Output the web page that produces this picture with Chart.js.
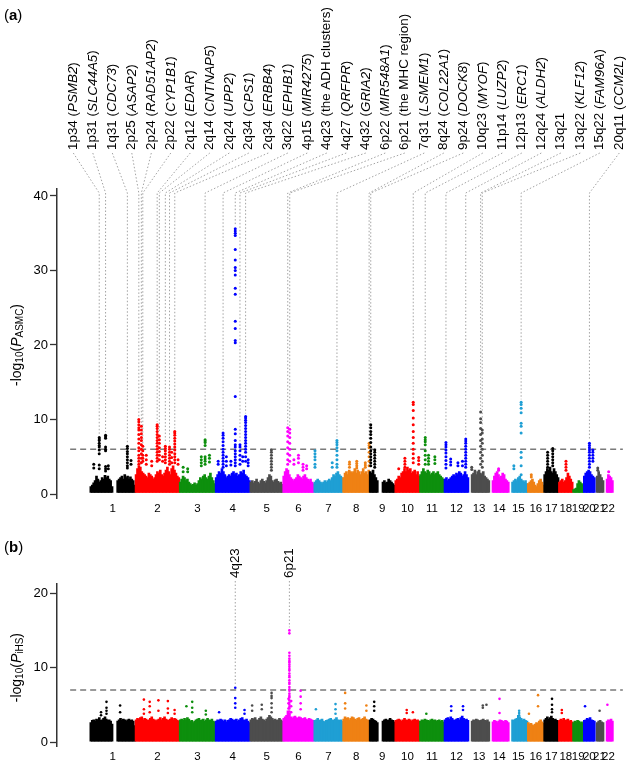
<!DOCTYPE html>
<html lang="en">
<head>
<meta charset="UTF-8">
<title>ASMC / iHS Manhattan plots</title>
<script src="https://cdn.jsdelivr.net/npm/chart.js"></script>
<style>
  body { margin: 0; background: #fff; }
  #wrap { position: relative; width: 640px; height: 761px; }
  canvas { position: absolute; left: 0; }
</style>
</head>
<body>
<div id="wrap">
  <canvas id="chartA" width="640" height="525" style="top:0"></canvas>
  <canvas id="chartB" width="640" height="236" style="top:525px"></canvas>
</div>

<script>
// ---- data ----
const chromosomes = ['1','2','3','4','5','6','7','8','9','10','11','12','13','14','15','16','17','18','19','20','21','22'];
const chromLengthMb = [249,243,198,191,181,171,159,146,141,136,135,134,115,107,103,90,81,78,59,63,48,51];

const asmcTicks = [0, 10, 20, 30, 40];
const ihsTicks = [0, 10, 20];
const asmcThreshold = 6;
const ihsThreshold = 7;

// top of the dense SNP mass, evenly spaced bins along each chromosome (null = no SNPs)
const asmcBaseTop = [
  [1.0,1.2,1.5,1.8,2.4,2.0,1.6,1.8,2.2,2.0,2.5,2.2,2.4,2.0,1.8,1.0,null,null,null,1.8,2.0,2.2,2.4,2.0,2.6,2.2,2.4,2.0,2.3,2.0,1.8,1.2],
  [2.6,3.4,3.8,3.6,3.0,2.8,2.6,2.4,2.2,2.8,2.6,2.4,2.0,2.2,2.6,3.0,2.8,3.2,2.6,2.4,2.8,3.2,3.6,3.0,2.6,3.4,3.8,3.2,2.8,2.4,2.2],
  [1.6,2.0,2.4,2.2,1.8,2.0,1.6,1.4,1.2,1.3,1.5,1.2,1.4,1.8,2.2,2.0,2.4,2.6,2.2,2.0,2.4,2.8,2.2,1.8,1.4],
  [2.2,2.6,3.0,2.8,3.4,3.0,2.6,2.2,2.4,2.6,2.4,2.8,3.0,2.6,2.8,2.4,2.6,3.0,2.8,3.2,2.6,2.4,2.2,1.8],
  [1.6,1.8,1.5,1.7,2.0,1.6,1.4,1.8,2.0,1.7,1.5,1.8,2.2,2.6,2.4,1.8,1.6,1.9,2.0,1.7,1.5,1.6,1.3],
  [2.4,3.0,3.4,3.2,2.6,2.2,2.0,1.8,2.0,2.2,2.6,2.4,2.2,2.0,2.4,2.6,2.2,2.0,1.8,2.0,1.6,1.4],
  [1.6,1.8,2.0,1.8,1.6,1.4,1.6,1.8,1.6,1.8,2.0,1.8,2.2,2.6,2.4,2.8,3.0,2.6,2.4,2.2],
  [2.2,2.8,3.0,2.6,3.2,3.0,2.8,3.0,3.4,2.8,3.2,3.0,2.6,3.0,3.4,2.8,3.0,2.6,3.2],
  [3.0,2.8,3.2,2.6,2.2,1.8,null,null,null,1.6,1.8,1.5,1.6,2.0,1.8,1.6,1.4,1.2],
  [1.8,2.0,2.4,2.2,2.8,3.0,3.4,3.0,3.6,3.2,3.4,2.8,3.0,3.2,2.6,3.0,2.4],
  [2.6,3.0,3.4,3.0,2.8,3.2,3.0,2.6,2.8,3.0,2.6,2.8,3.0,2.6,2.4,2.2,2.0],
  [2.0,2.2,1.8,2.0,2.2,2.4,2.6,2.4,2.8,2.6,3.0,2.8,2.4,2.6,3.0,2.6,2.2],
  [null,null,2.6,2.8,3.2,2.6,3.0,3.2,2.8,2.6,3.0,2.4,2.2,2.0,1.8],
  [null,null,1.8,2.4,2.8,3.0,2.6,2.2,2.4,2.8,2.6,2.0,1.8,1.6],
  [null,null,1.6,1.8,2.0,1.8,2.2,2.4,2.0,1.8,1.6,1.8,1.4],
  [1.4,1.6,1.8,2.0,1.6,1.2,1.0,1.4,1.8,2.0,1.6,1.2],
  [2.6,3.0,3.4,3.2,3.6,3.0,2.8,3.4,3.0,2.6,2.2],
  [1.6,1.8,2.0,1.6,1.8,2.2,2.8,2.4,2.0,1.6],
  [0.6,0.7,0.8,1.4,1.8,1.6,1.4,1.2],
  [2.4,2.8,3.0,3.2,3.0,2.6,2.4,2.2],
  [null,2.4,3.0,2.6,2.2,1.8],
  [null,null,2.0,2.6,2.4,2.2,1.8]
];

// labelled loci in panel (a)
const asmcLocusBand = ['1p34','1p31','1q31','2p25','2p24','2p22','2q12','2q14','2q24','2q34','2q34','3q22','4p15','4q23','4q27','4q32','6p22','6p21','7q31','8q24','9p24','10q23','11p14','12p13','12q24','13q21','13q22','15q22','20q11'];
const asmcLocusGene = ['PSMB2','SLC44A5','CDC73','ASAP2','RAD51AP2','CYP1B1','EDAR','CNTNAP5','UPP2','CPS1','ERBB4','EPHB1','MIR4275','the ADH clusters','QRFPR','GRIA2','MIR548A1','the MHC region','LSMEM1','COL22A1','DOCK8','MYOF','LUZP2','ERC1','ALDH2','','KLF12','FAM96A','CCM2L'];
const asmcLocusChrom = [1,1,1,2,2,2,2,2,2,2,2,3,4,4,4,4,6,6,7,8,9,10,11,12,12,13,13,15,20];
const asmcLocusMb = [50,85,205,19,33,41,120,132,165,188,217,141,42,109,135,166,26,37,126,144,7,100,30,9,118,66,75,67,32];
const asmcLocusValues = [
  [7.6,7.4,7.2,6.8,6.5,6.3,5.9,5.4,3.9,3.4],
  [7.9,7.7,7.5,6.3,6.0,5.8,3.7,3.4,3.1],
  [6.4,6.1,5.7,5.4,5.0,4.6,4.2,3.8,3.5],
  [10.0,9.7,9.3,8.9,8.6,8.0,7.4,6.8,6.2,5.8,5.2,4.8,4.4,4.0],
  [9.1,8.6,8.1,7.6,7.2,6.6,6.0,5.4,4.8,4.2],
  [6.4,5.8,5.2,4.8,4.4],
  [9.3,9.1,8.8,8.4,8.0,7.6,7.2,6.8,6.4,6.0,5.6,5.2,4.8,4.4],
  [7.8,7.3,6.8,6.2,5.7,5.2,4.6],
  [6.4,6.1,5.8,5.4,5.0,4.6,4.2],
  [6.3,6.0,5.6,5.2,4.8,4.4,4.0],
  [8.4,8.2,7.9,7.5,7.1,6.7,6.3,5.9,5.4,5.0,4.6,4.2],
  [7.3,7.1,6.9,6.5,5.0,4.7,4.4,4.0],
  [8.2,7.9,7.5,7.0,6.5,6.0,5.6,5.2,4.8,4.4,4.0,3.6],
  [35.6,35.3,35.0,34.7,32.8,31.4,30.4,30.0,29.4,27.6,26.8,23.2,22.2,20.6,20.3,13.1,8.7,8.1,7.2,6.6,6.3,5.8,5.4,5.0,4.6,4.2,3.8],
  [6.6,6.3,5.8,5.2,4.6,4.0],
  [10.4,10.2,9.9,9.6,9.2,8.8,8.4,8.0,7.6,7.2,6.8,6.4,6.0,5.6,5.0,4.4],
  [8.9,8.4,7.8,7.0,6.2,5.4,4.6,4.0],
  [8.7,8.2,7.6,6.8,6.0,5.2,4.4],
  [7.2,6.9,6.6,6.2,5.8,5.2,4.6,4.0,3.6],
  [6.8,6.5,6.2,5.6,5.0,4.4,3.8],
  [9.3,8.9,8.4,8.0,7.5,6.9,6.3,5.8,5.4,5.0,4.6,4.2,3.8],
  [12.3,12.0,11.2,10.2,9.3,8.4,7.6,6.8,6.0,5.4,4.8,4.2],
  [7.6,7.3,7.0,6.6,5.8,5.2,4.6,4.0],
  [6.9,6.6,6.3,5.9,5.5,5.0,4.5,4.0,3.5],
  [7.4,7.1,6.8,6.4,6.0,5.6,5.2,4.8,4.4,4.0,3.6],
  [11.0,10.1,9.6,8.8,8.0,7.2,6.4,5.6,4.8,4.0],
  [8.6,8.2,7.4,6.8,6.0,5.2,4.4,3.6],
  [12.3,12.0,11.5,10.9,9.5,9.1,8.2,5.6,4.9,3.8,2.6],
  [6.8,6.5,6.2,5.9,5.6,5.2,4.8,4.4,4.0,3.6]
];

// other SNP stacks above the mass in panel (a): [chromosome, Mb, values]
const asmcOtherStacks = [
  [1,20,[4.0,3.5]], [1,100,[3.8,3.4]], [1,225,[4.5,4.0]],
  [2,60,[5.2,4.6,4.0]], [2,90,[4.4,3.8]], [2,150,[5.0,4.4]], [2,200,[5.6,4.9,4.2]], [2,235,[4.6,4.0]],
  [3,20,[3.6,3.0]], [3,45,[3.4,3.0]], [3,120,[5.0,4.6,4.2,3.8]], [3,165,[5.2,4.8,4.3]],
  [4,15,[4.4,4.0]], [4,60,[5.0,4.4,3.8]], [4,85,[4.4,3.9]], [4,150,[5.0,4.4]], [4,180,[4.6,4.2,3.8]],
  [5,117,[5.9,5.6,5.2,4.8,4.4,4.0,3.6,3.2]],
  [6,60,[4.6,4.0]], [6,85,[5.2,4.8,4.2]], [6,110,[4.0,3.6,3.2]], [6,130,[3.8,3.4]],
  [7,5,[5.8,5.4,5.0,4.6,4.0,3.6]], [7,100,[4.2,3.6]],
  [8,36,[4.3,4.0,3.6]], [8,76,[4.4,4.1,3.8,3.5]], [8,123,[4.2,3.9,3.6]],
  [9,29,[5.9,5.6,5.2,4.8,4.4,4.0,3.6]],
  [10,20,[3.4]], [10,54,[4.8,4.4,4.0,3.6]], [10,130,[4.9,4.5,4.0]],
  [11,48,[5.2,4.8,4.4,4.0]], [11,83,[5.0,4.6,4.1]],
  [12,35,[4.7,4.3,3.9]], [12,75,[4.2,3.8]], [12,100,[4.4,3.8]],
  [13,17,[3.6,3.3]], [14,50,[3.4,3.2]], [15,27,[3.8,3.4]], [16,20,[2.6,2.3]],
  [17,20,[5.6,5.2,4.8,4.4,4.0,3.6]], [17,48,[6.1,5.8,5.4,5.0,4.6,4.2,3.8]],
  [18,40,[4.4,4.0,3.6,3.2]], [20,51,[5.9,5.6,5.2,4.8,4.4]], [21,15,[3.5,3.2]], [22,27,[3.0]]
];

const ihsBaseTop = [
  [2.6,2.9,3.0,2.8,3.1,3.0,3.3,2.9,3.0,3.2,3.4,3.1,2.9,3.0,2.8,2.4,null,null,null,2.8,3.0,3.2,2.9,3.1,3.0,2.8,3.0,3.1,2.9,3.0,2.8,2.2],
  [3.0,3.2,3.1,3.3,3.4,3.0,3.2,3.1,2.9,3.0,3.2,3.4,3.1,3.0,2.8,3.0,3.1,3.3,3.0,3.2,3.4,3.1,3.0,2.9,3.1,3.3,3.0,3.2,3.1,2.9,2.8],
  [3.0,3.1,2.9,3.2,3.0,3.3,3.1,2.8,2.9,2.6,2.8,3.0,3.1,3.2,2.9,3.0,3.1,2.8,3.0,3.2,3.0,2.9,3.1,2.8,2.7],
  [2.8,3.0,2.9,3.1,3.0,2.8,3.0,2.7,2.9,3.0,3.2,3.1,2.9,3.0,3.1,2.8,3.0,3.2,3.3,3.0,2.9,3.1,2.8,2.6],
  [3.0,3.2,3.1,3.3,3.0,2.9,3.2,3.4,3.1,3.0,2.8,3.1,3.3,3.6,3.4,3.2,3.0,3.1,2.9,3.0,3.2,3.0,2.8],
  [3.2,3.4,3.6,4.2,3.8,3.4,3.2,3.4,3.5,3.3,3.2,3.4,3.3,3.1,3.2,3.3,3.1,3.0,3.2,3.1,3.0,2.9],
  [2.9,3.0,3.2,2.9,3.0,3.1,2.8,2.7,2.9,3.0,3.1,3.2,3.0,2.9,3.1,3.3,3.0,2.9,3.0,2.8],
  [3.1,3.4,3.2,3.3,3.0,3.2,3.4,3.3,3.1,3.0,3.2,3.3,3.0,3.1,3.2,3.4,3.1,3.0,2.9],
  [3.0,3.2,3.1,2.9,2.8,2.6,null,null,null,2.8,3.0,3.1,2.9,3.0,3.2,3.0,2.9,2.7],
  [2.9,3.0,3.1,3.0,2.8,3.0,3.2,3.0,2.9,3.1,3.0,2.8,3.0,3.1,2.9,3.0,2.8],
  [2.8,3.0,2.9,3.1,3.0,2.9,2.8,3.0,3.1,2.9,3.0,2.8,2.9,3.0,2.8,2.9,2.7],
  [3.0,3.2,3.3,3.1,3.4,3.2,3.0,2.9,3.1,3.2,3.0,3.3,3.5,3.2,3.0,3.1,2.9],
  [null,null,2.8,3.0,2.9,3.1,3.0,2.8,2.9,3.0,3.1,2.9,2.8,3.0,2.7],
  [null,null,2.7,2.9,2.8,2.6,2.8,3.0,2.9,2.8,2.7,2.9,2.8,2.6],
  [null,null,3.0,2.9,3.1,3.2,3.6,3.4,3.2,3.0,3.1,2.9,2.8],
  [2.6,2.4,2.5,2.3,2.2,2.4,2.6,2.5,2.8,3.0,2.7,2.5],
  [3.0,3.2,3.4,3.1,3.3,3.5,3.2,3.0,3.1,2.9,2.8],
  [2.9,3.1,3.0,3.2,2.9,3.0,3.1,2.8,2.9,2.7],
  [2.6,2.8,2.7,2.9,2.8,2.6,2.7,2.5],
  [2.9,3.0,3.2,3.1,3.3,3.0,2.9,2.8],
  [null,2.6,2.8,2.9,2.7,2.6],
  [null,null,2.8,3.0,2.9,3.1,2.8]
];

const ihsLocusBand = ['4q23', '6p21'];
const ihsLocusChrom = [4, 6];
const ihsLocusMb = [109, 35];
const ihsLocusValues = [
  [7.3,5.9,5.2,4.6],
  [15.0,14.6,12.0,11.6,11.2,10.9,10.7,10.4,10.1,9.8,9.6,9.2,8.9,8.7,8.3,8.0,7.8,7.4,7.1,6.9,6.5,6.2,6.0,5.6,5.3,5.0,4.7,4.5,4.1,3.8]
];

const ihsOtherStacks = [
  [1,60,[4.0,3.6]], [1,90,[5.4,4.6,4.2,3.8]], [1,165,[4.9,4.0]],
  [2,47,[5.7,4.4,3.8]], [2,79,[5.4,4.8,4.0]], [2,127,[5.6,4.2]], [2,179,[5.5,4.5,3.9]], [2,216,[4.3,3.8]],
  [3,38,[4.8]], [3,70,[5.4,4.6,4.0]], [3,145,[4.2,3.7]],
  [4,20,[4.0]], [4,160,[4.3,3.8]],
  [5,11,[4.9,4.2]], [5,64,[5.0,4.4]], [5,118,[6.6,6.2,5.9,5.2,4.6,4.0]],
  [6,30,[5.8,5.2,4.5]], [6,45,[5.5,4.8,4.0]], [6,97,[6.9,6.1,5.2,4.4]],
  [7,10,[4.4]], [7,118,[5.1,4.4,3.8]],
  [8,12,[6.6,5.2,4.5]], [8,129,[4.9,4.2]],
  [9,26,[5.4,4.8,4.2]],
  [10,64,[4.3,3.9]], [10,98,[4.0]], [11,36,[3.8]],
  [12,38,[4.8,4.2]], [12,103,[4.8,4.3]],
  [13,78,[4.9,4.6]], [13,98,[5.0]],
  [14,55,[5.8,3.9]], [15,56,[4.2,3.9,3.6]],
  [16,7,[3.8]], [16,57,[6.3,4.8]],
  [17,44,[5.8,5.0,4.4,4.0]], [18,17,[4.3,3.9]],
  [20,8,[4.8]], [21,25,[4.2]], [22,20,[5.0]]
];

// ---- helpers ----
const FONT = '"Liberation Sans", Arial, sans-serif';
Chart.defaults.font.family = FONT;
Chart.defaults.color = '#000';

const palette = ['#000000', '#ff0000', '#0d8f0d', '#0000ff', '#4d4d4d', '#ff00ff', '#1f9fd4', '#ef8114'];
const colorOf = c => palette[(c - 1) % palette.length];

const chromStart = [];
chromLengthMb.reduce((acc, len, i) => { chromStart[i] = acc; return acc + len; }, 0);
const xMin = -110, xMax = 2933;

function buildBars(baseTop, floor) {
  const data = [], colors = [];
  baseTop.forEach((tops, ci) => {
    const w = chromLengthMb[ci] / tops.length;
    tops.forEach((t, j) => {
      if (t === null) return;
      data.push({ x: chromStart[ci] + (j + 0.5) * w, y: [floor, t] });
      colors.push(colorOf(ci + 1));
    });
  });
  return { data, colors };
}

function buildPoints(stacks) {
  const data = [], colors = [];
  stacks.forEach(([c, mb, vals]) => {
    vals.forEach(v => {
      data.push({ x: chromStart[c - 1] + mb, y: v });
      colors.push(colorOf(c));
    });
  });
  return { data, colors };
}

// draw text pieces rotated -90deg starting at (x, y)
function drawRuns(ctx, x, y, runs, centered) {
  ctx.save();
  ctx.translate(x, y);
  ctx.rotate(-Math.PI / 2);
  ctx.textBaseline = 'middle';
  ctx.textAlign = 'left';
  ctx.fillStyle = '#000';
  let total = 0;
  runs.forEach(r => { ctx.font = r.font; total += ctx.measureText(r.text).width; });
  let cx = centered ? -total / 2 : 0;
  runs.forEach(r => {
    ctx.font = r.font;
    ctx.fillText(r.text, cx, r.dy || 0);
    cx += ctx.measureText(r.text).width;
  });
  ctx.restore();
}

function locusRuns(band, gene) {
  const f = '13.4px ' + FONT;
  if (!gene) return [{ text: band, font: f }];
  const italic = !gene.startsWith('the ');
  return [
    { text: band + ' (', font: f },
    { text: gene, font: (italic ? 'italic ' : '') + f },
    { text: ')', font: f }
  ];
}

function makeDecor(p) {
  return {
    id: 'decor' + p.letter,
    beforeDatasetsDraw(chart) {
      const { ctx, scales: { x, y } } = chart;
      ctx.save();
      ctx.strokeStyle = '#a3a3a3';
      ctx.lineWidth = 1;
      ctx.setLineDash([1.5, 2]);
      p.loci.forEach((l, i) => {
        const px = x.getPixelForValue(chromStart[l.chrom - 1] + l.mb);
        const py = y.getPixelForValue(Math.max(...l.values));
        const lx = p.labelX(i, px);
        ctx.beginPath();
        ctx.moveTo(lx, p.labelBottom + 3);
        ctx.lineTo(px, p.bendY);
        ctx.lineTo(px, py - 3);
        ctx.stroke();
      });
      ctx.restore();
    },
    afterDraw(chart) {
      const { ctx, scales: { x, y } } = chart;
      p.loci.forEach((l, i) => {
        const px = x.getPixelForValue(chromStart[l.chrom - 1] + l.mb);
        drawRuns(ctx, p.labelX(i, px), p.labelBottom, locusRuns(l.band, l.gene), false);
      });
      // y axis title with subscripts
      const yc = (y.getPixelForValue(p.ticks[0]) + y.getPixelForValue(p.ticks[p.ticks.length - 1])) / 2;
      const main = '14px ' + FONT, sub = '10px ' + FONT;
      drawRuns(ctx, 17, yc, [
        { text: '-log', font: main },
        { text: '10', font: sub, dy: 3.5 },
        { text: '(', font: main },
        { text: 'P', font: 'italic ' + main },
        { text: p.sub, font: sub, dy: 3.5 },
        { text: ')', font: main }
      ], true);
      // panel letter
      ctx.save();
      ctx.fillStyle = '#000';
      ctx.textBaseline = 'middle';
      ctx.font = '15px ' + FONT;
      ctx.fillText('(', 4, p.letterY);
      let w = ctx.measureText('(').width;
      ctx.font = 'bold 15px ' + FONT;
      ctx.fillText(p.letter, 4 + w, p.letterY);
      w += ctx.measureText(p.letter).width;
      ctx.font = '15px ' + FONT;
      ctx.fillText(')', 4 + w, p.letterY);
      ctx.restore();
    }
  };
}

function makePanel(canvasId, p) {
  const bars = buildBars(p.baseTop, p.floor);
  const lociStacks = p.loci.map(l => [l.chrom, l.mb, l.values]);
  const pts = buildPoints(lociStacks.concat(p.otherStacks));
  return new Chart(document.getElementById(canvasId), {
    type: 'scatter',
    data: {
      datasets: [
        {
          type: 'scatter', data: pts.data, order: 0,
          pointRadius: p.pointRadius, pointBorderWidth: 0,
          pointBackgroundColor: pts.colors, pointBorderColor: pts.colors
        },
        {
          type: 'bar', data: bars.data, order: 1,
          backgroundColor: bars.colors, borderWidth: 0,
          barThickness: 2, grouped: false
        },
        {
          type: 'line', order: 2,
          data: [{ x: xMin, y: p.threshold }, { x: xMax, y: p.threshold }],
          borderColor: '#7a7a7a', borderWidth: 1.4, borderDash: [6, 4], pointRadius: 0
        }
      ]
    },
    options: {
      responsive: false,
      devicePixelRatio: 1,
      animation: false,
      events: [],
      layout: { padding: { top: p.padTop, left: 0, right: 0, bottom: 0 } },
      plugins: { legend: { display: false }, tooltip: { enabled: false } },
      scales: {
        x: {
          type: 'linear', min: xMin, max: xMax,
          afterBuildTicks: s => { s.ticks = chromosomes.map((c, i) => ({ value: chromStart[i] + chromLengthMb[i] / 2 })); },
          afterFit: s => { s.height = p.xHeight; },
          grid: { display: false, drawTicks: false },
          border: { display: false },
          ticks: { autoSkip: false, maxRotation: 0, padding: p.xPad, font: { size: 11.5 }, color: '#000',
                   callback: (v, i) => chromosomes[i] }
        },
        y: {
          min: p.yMin, max: p.yMax,
          afterBuildTicks: s => { s.ticks = p.ticks.map(v => ({ value: v })); },
          afterFit: s => { s.width = 57; },
          grid: { drawOnChartArea: false, tickLength: 7, tickWidth: 1.3, tickColor: '#333' },
          border: { color: '#333', width: 1.5 },
          ticks: { font: { size: 13 }, color: '#000', padding: 2 }
        }
      }
    },
    plugins: [makeDecor(p)]
  });
}

// ---- panel (a) ----
const asmcLoci = asmcLocusBand.map((b, i) => ({
  band: b, gene: asmcLocusGene[i], chrom: asmcLocusChrom[i], mb: asmcLocusMb[i], values: asmcLocusValues[i]
}));

makePanel('chartA', {
  letter: 'a', letterY: 16, sub: 'ASMC',
  baseTop: asmcBaseTop, floor: 0.2, loci: asmcLoci, otherStacks: asmcOtherStacks,
  threshold: asmcThreshold, ticks: asmcTicks, yMin: -0.6, yMax: 41,
  padTop: 188.5, xHeight: 26.5, xPad: 3, pointRadius: 1.5,
  labelX: i => 73.3 + i * 19.5, labelBottom: 150, bendY: 193
});

// ---- panel (b) ----
const ihsLoci = ihsLocusBand.map((b, i) => ({
  band: b, gene: '', chrom: ihsLocusChrom[i], mb: ihsLocusMb[i], values: ihsLocusValues[i]
}));

makePanel('chartB', {
  letter: 'b', letterY: 23, sub: 'iHS',
  baseTop: ihsBaseTop, floor: 0.1, loci: ihsLoci, otherStacks: ihsOtherStacks,
  threshold: ihsThreshold, ticks: ihsTicks, yMin: -0.6, yMax: 21.3,
  padTop: 58.5, xHeight: 14.5, xPad: 3, pointRadius: 1.3,
  labelX: (i, px) => px, labelBottom: 53, bendY: 58
});
</script>
</body>
</html>
